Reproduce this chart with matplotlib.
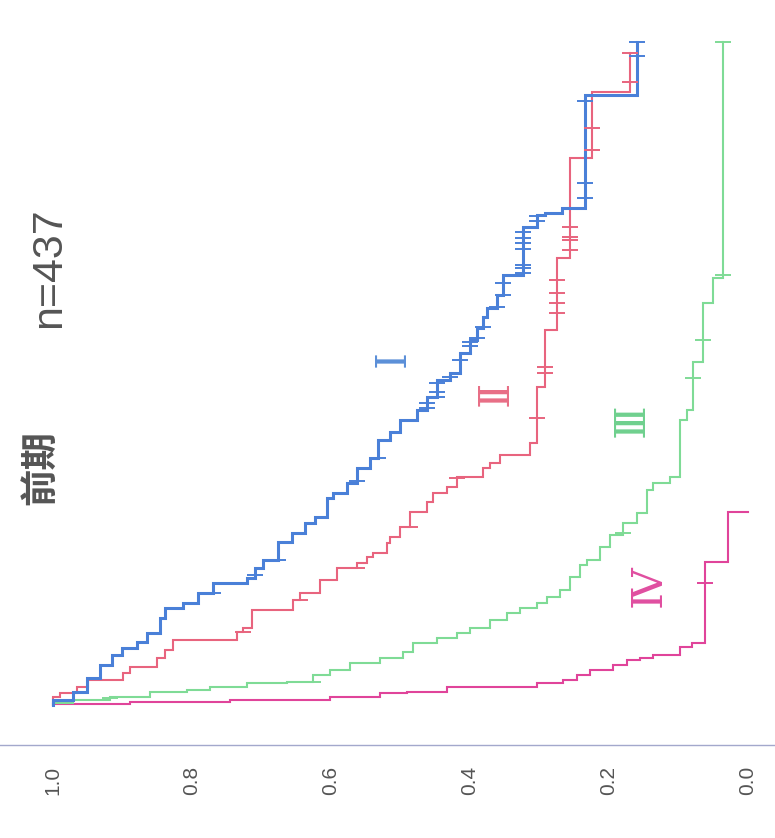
import numpy as np
import matplotlib
matplotlib.use("Agg")
import matplotlib.pyplot as plt
from matplotlib import font_manager
from matplotlib.ft2font import FT2Font

# Kaplan-Meier estimates by stage (time in months, survival proportion)
stages = ["Ⅰ", "Ⅱ", "Ⅲ", "Ⅳ"]
stages_ascii = ["I", "II", "III", "IV"]

time_I = [0.9, 2.4, 4.9, 7.3, 9.1, 10.4, 11.5, 13.1, 15.8, 17.6, 18.5, 20.4, 22.2, 23.1,
          24.9, 26.4, 29.6, 31.3, 33.1, 34.2, 37.6, 38.5, 40.4, 43.1, 44.9, 48.2, 49.6,
          51.8, 53.6, 56.0, 59.1, 60.4, 64.0, 66.4, 68.5, 70.5, 72.2, 74.5, 78.2, 86.9,
          89.1, 89.5, 90.4, 110.9]
surv_I = [0.971, 0.951, 0.932, 0.915, 0.901, 0.879, 0.865, 0.846, 0.839, 0.813, 0.791,
          0.770, 0.721, 0.709, 0.698, 0.676, 0.656, 0.637, 0.623, 0.606, 0.597, 0.577,
          0.563, 0.544, 0.532, 0.515, 0.501, 0.476, 0.462, 0.447, 0.429, 0.414, 0.400,
          0.390, 0.381, 0.376, 0.361, 0.353, 0.324, 0.304, 0.292, 0.268, 0.235, 0.160]
cens_I = [20.4, 23.6, 26.4, 40.7, 44.9, 54.0, 55.0, 56.0, 57.0, 58.5, 59.6, 62.7, 65.3,
          66.0, 66.7, 68.7, 72.4, 74.5, 76.7, 78.5, 79.5, 80.0, 83.0, 84.0, 85.0, 86.0,
          88.0, 89.0, 92.2, 94.9, 109.8, 118.0, 120.5]
end_I = 120.5

time_II = [1.45, 2.2, 3.3, 4.5, 5.8, 6.9, 8.5, 10.0, 11.8, 13.3, 14.0, 17.3, 19.1, 20.4,
           22.7, 24.9, 25.8, 26.9, 27.6, 29.5, 30.5, 32.4, 35.1, 36.9, 38.5, 39.6, 41.5,
           43.1, 44.0, 45.5, 47.6, 57.8, 68.2, 81.3, 99.5, 111.5]
surv_II = [0.990, 0.965, 0.950, 0.899, 0.889, 0.850, 0.839, 0.827, 0.735, 0.727, 0.714,
           0.655, 0.645, 0.616, 0.591, 0.563, 0.548, 0.540, 0.519, 0.515, 0.501, 0.486,
           0.462, 0.453, 0.433, 0.419, 0.381, 0.371, 0.357, 0.314, 0.304, 0.292, 0.275,
           0.256, 0.224, 0.170]
cens_II = [13.3, 19.1, 24.9, 32.4, 41.3, 52.2, 60.4, 61.5, 71.3, 73.1, 74.9, 77.3, 82.7,
           84.5, 85.1, 86.9, 100.9, 104.9, 113.3, 118.5]
end_II = 118.5

time_III = [0.36, 0.9, 1.45, 2.4, 2.7, 3.3, 4.0, 4.2, 5.5, 6.4, 7.6, 8.5, 9.6, 11.3, 12.2,
            13.1, 14.0, 15.5, 16.7, 17.6, 18.5, 19.6, 20.9, 23.3, 25.5, 26.4, 28.7, 30.9,
            33.1, 34.9, 39.1, 40.4, 41.5, 51.8, 53.6, 62.4, 73.1, 77.6]
surv_III = [0.971, 0.918, 0.860, 0.807, 0.774, 0.721, 0.663, 0.626, 0.601, 0.573, 0.529,
            0.496, 0.482, 0.447, 0.419, 0.400, 0.371, 0.347, 0.328, 0.304, 0.289, 0.271,
            0.256, 0.242, 0.232, 0.213, 0.199, 0.180, 0.160, 0.145, 0.137, 0.112, 0.098,
            0.088, 0.079, 0.065, 0.050, 0.036]
cens_III = [1.3, 4.2, 31.3, 59.5, 66.4, 78.2, 120.5]
end_III = 120.5

time_IV = [0.2, 0.55, 0.9, 1.45, 2.2, 2.4, 3.3, 4.0, 4.5, 5.5, 6.4, 7.3, 8.2, 8.5, 9.1,
           10.5, 11.3, 26.0, 35.1]
surv_IV = [0.889, 0.745, 0.601, 0.529, 0.491, 0.433, 0.304, 0.266, 0.246, 0.227, 0.194,
           0.174, 0.155, 0.137, 0.098, 0.081, 0.062, 0.029, 0.0]
cens_IV = [22.2]
end_IV = 35.1

surv_ticks = [1.0, 0.8, 0.6, 0.4, 0.2, 0.0]
tick_labels = ["1.0", "0.8", "0.6", "0.4", "0.2", "0.0"]
title_text = "前期"
n_text = "n=437"

line_colors = ["#4a80d8", "#e8647e", "#7fdb96", "#e0449a"]
label_colors = ["#5b8fd8", "#e86e86", "#6fd08e", "#e04ea0"]
line_widths = [2.2, 1.5, 1.5, 1.5]


def step_path(times, surv, t_end):
    """Survival on x, time on y: vertical runs while time passes, horizontal drops at events."""
    xs, ys = [1.0], [0.0]
    prev = 1.0
    for t, s in zip(times, surv):
        xs += [prev, s]
        ys += [t, t]
        prev = s
    if t_end > ys[-1]:
        xs.append(prev)
        ys.append(t_end)
    return np.array(xs), np.array(ys)


def surv_at(times, surv, tc):
    idx = np.searchsorted(np.asarray(times), np.asarray(tc), side="right") - 1
    s = np.asarray([1.0] + list(surv))
    return s[idx + 1]


def serif_has_numerals():
    try:
        path = font_manager.findfont("DejaVu Serif", fallback_to_default=False)
        ft = FT2Font(path)
        return all(ft.get_char_index(ord(c)) != 0 for c in "ⅠⅡⅢⅣ")
    except Exception:
        return False


W, H = 775, 838
fig = plt.figure(figsize=(W / 100, H / 100), dpi=100)
ax = fig.add_axes([0, 0, 1, 1])

# pixel-calibrated frame: survival 1 -> 0 left to right, time upward
x_right = 748.0
x_scale = 695.0
y_zero = 705.0
y_scale = 5.5
ax.set_xlim(x_right / x_scale, (x_right - W) / x_scale)
ax.set_ylim((y_zero - H) / y_scale, y_zero / y_scale)

groups = [
    (time_I, surv_I, cens_I, end_I),
    (time_II, surv_II, cens_II, end_II),
    (time_III, surv_III, cens_III, end_III),
    (time_IV, surv_IV, cens_IV, end_IV),
]
for i, (tt, ss, cc, te) in enumerate(groups):
    px, py = step_path(tt, ss, te)
    ax.plot(px, py, color=line_colors[i], lw=line_widths[i], solid_joinstyle="miter",
            zorder=3 + (3 - i) * 0.1)
    ax.plot(surv_at(tt, ss, cc), cc, ls="none", marker="_", ms=11, mew=1.4,
            color=line_colors[i], zorder=4)

# survival axis drawn as a bottom spine
for side in ["top", "right", "left"]:
    ax.spines[side].set_visible(False)
ax.spines["bottom"].set_position(("data", (y_zero - 745) / y_scale))
ax.spines["bottom"].set_color("#a3a8cc")
ax.spines["bottom"].set_linewidth(1.0)
ax.set_xticks(surv_ticks)
ax.set_xticklabels(tick_labels, rotation=90, fontsize=15, color="#555555",
                   family="Liberation Sans")
ax.tick_params(axis="x", length=0, pad=15)
ax.set_yticks([])
ax.patch.set_alpha(0)

# headings
fig.text(40 / W, 1 - 467 / H, title_text, rotation=90, ha="center", va="center",
         fontsize=27, fontweight="bold", color="#555555",
         family=["Noto Sans CJK JP", "DejaVu Sans"])
fig.text(49 / W, 1 - 268 / H, n_text, rotation=90, ha="center", va="center",
         fontsize=31, color="#555555", family="Liberation Sans")

# stage labels
use_numerals = serif_has_numerals()
label_pos = [(393, 358), (496, 393), (632, 420), (649, 586)]
for i, (lx, ly) in enumerate(label_pos):
    if use_numerals:
        txt, fam, fs = stages[i], "DejaVu Serif", 31
    else:
        txt, fam, fs = stages_ascii[i], "Liberation Serif", 33
    fig.text(lx / W, 1 - ly / H, txt, rotation=90, ha="center", va="center",
             fontsize=fs, color=label_colors[i], family=fam)

fig.savefig("out.png", dpi=100)
